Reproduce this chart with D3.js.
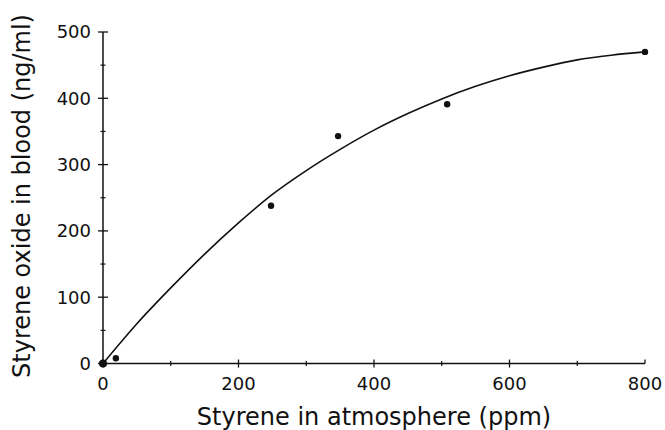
<!DOCTYPE html>
<html>
<head>
<meta charset="utf-8">
<script src="https://cdn.jsdelivr.net/npm/d3@7"></script>
<style>
body { margin: 0; background: #fff; }
svg { display: block; }
text { font-family: "DejaVu Sans", sans-serif; fill: #111; }
</style>
</head>
<body>
<div id="main"></div>
<script>
// measured points
var ppm = [0, 19, 248, 347, 508, 800];
var oxide = [0, 8, 238, 343, 391, 470];

// fitted curve
var curve_ppm = [0, 50, 100, 150, 200, 250, 300, 350, 400, 450, 500, 550, 600, 650, 700, 750, 800];
var curve_oxide = [0, 60, 114, 165, 212, 255, 291, 323, 352, 377, 399, 418, 434, 447, 458, 465, 470];

var x_major = [0, 200, 400, 600, 800];
var x_minor = [100, 300, 500, 700];
var y_major = [0, 100, 200, 300, 400, 500];
var y_minor = [50, 150, 250, 350, 450];

var width = 665, height = 430;
var svg = d3.select("#main").append("svg")
    .attr("width", width)
    .attr("height", height);

var x = d3.scaleLinear().domain([0, 800]).range([103, 645]);
var y = d3.scaleLinear().domain([0, 500]).range([363.5, 32]);

var ink = "#111";

// x axis
var xg = svg.append("g").attr("transform", "translate(0," + y(0) + ")");
xg.append("line")
    .attr("x1", x(0)).attr("x2", x(800))
    .attr("stroke", ink).attr("stroke-width", 1.5);
xg.selectAll(".xmaj").data(x_major).enter().append("line")
    .attr("x1", function(d) { return x(d); })
    .attr("x2", function(d) { return x(d); })
    .attr("y1", -4).attr("y2", function(d) { return d == 800 ? 0 : 4; })
    .attr("stroke", ink).attr("stroke-width", 1.3);
xg.selectAll(".xmin").data(x_minor).enter().append("line")
    .attr("x1", function(d) { return x(d); })
    .attr("x2", function(d) { return x(d); })
    .attr("y1", -2.5).attr("y2", 2.5)
    .attr("stroke", ink).attr("stroke-width", 1.2);
xg.selectAll(".xlab").data(x_major).enter().append("text")
    .attr("x", function(d) { return x(d); })
    .attr("y", 26.5)
    .attr("text-anchor", "middle")
    .style("font-size", "18px")
    .text(function(d) { return d; });

// y axis
var yg = svg.append("g").attr("transform", "translate(" + x(0) + ",0)");
yg.append("line")
    .attr("y1", y(0)).attr("y2", y(500))
    .attr("stroke", ink).attr("stroke-width", 1.5);
yg.selectAll(".ymaj").data(y_major).enter().append("line")
    .attr("y1", function(d) { return y(d); })
    .attr("y2", function(d) { return y(d); })
    .attr("x1", -5).attr("x2", 5)
    .attr("stroke", ink).attr("stroke-width", 1.3);
yg.selectAll(".ymin").data(y_minor).enter().append("line")
    .attr("y1", function(d) { return y(d); })
    .attr("y2", function(d) { return y(d); })
    .attr("x1", -2.5).attr("x2", 2.5)
    .attr("stroke", ink).attr("stroke-width", 1.2);
yg.selectAll(".ylab").data(y_major).enter().append("text")
    .attr("x", -12)
    .attr("y", function(d) { return y(d); })
    .attr("dy", "0.36em")
    .attr("text-anchor", "end")
    .style("font-size", "18px")
    .text(function(d) { return d; });

// titles
svg.append("text")
    .attr("x", (x(0) + x(800)) / 2)
    .attr("y", 425)
    .attr("text-anchor", "middle")
    .style("font-size", "24px")
    .text("Styrene in atmosphere (ppm)");
svg.append("text")
    .attr("transform", "translate(30," + 196 + ") rotate(-90)")
    .attr("text-anchor", "middle")
    .style("font-size", "24px")
    .text("Styrene oxide in blood (ng/ml)");

// fitted curve
var line = d3.line()
    .x(function(d) { return x(d[0]); })
    .y(function(d) { return y(d[1]); })
    .curve(d3.curveMonotoneX);
svg.append("path")
    .datum(d3.zip(curve_ppm, curve_oxide))
    .attr("d", line)
    .attr("fill", "none")
    .attr("stroke", ink)
    .attr("stroke-width", 1.6);

// points
svg.selectAll(".pt").data(d3.zip(ppm, oxide)).enter().append("circle")
    .attr("cx", function(d) { return x(d[0]); })
    .attr("cy", function(d) { return y(d[1]); })
    .attr("r", function(d, i) { return i == 0 ? 4 : 3.2; })
    .attr("fill", ink);
</script>
</body>
</html>
